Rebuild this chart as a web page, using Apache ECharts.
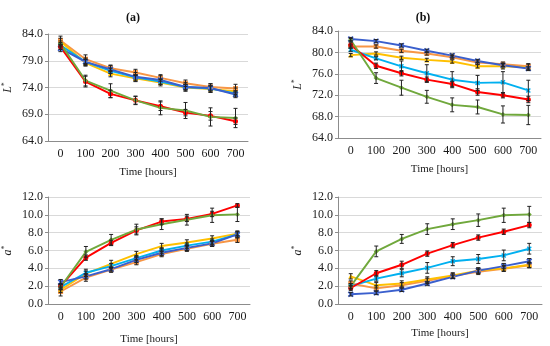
<!DOCTYPE html>
<html><head><meta charset="utf-8">
<script src="https://cdn.jsdelivr.net/npm/echarts@6/dist/echarts.min.js"></script>
<style>html,body{margin:0;padding:0;background:#fff}#c{width:550px;height:346px}</style>
</head><body><div id="c"></div>
<script>
var hours = ['0','100','200','300','400','500','600','700'];
var seriesNames = ['Orange','Yellow','Light blue','Dark blue','Red','Green'];
var colors = ['#F79646','#FFC000','#00B0F0','#3A5FCD','#FF0000','#70A83C'];

// Panel (a) L*
var aL_orange = [82.8,79.3,77.6,76.8,75.8,74.8,74.1,73.8];
var aL_yellow = [82.6,78.6,76.6,75.7,74.9,74.0,73.7,73.3];
var aL_lblue  = [81.9,78.8,77.1,75.9,75.1,74.1,73.8,72.9];
var aL_dblue  = [81.3,78.8,77.4,76.0,75.4,74.1,73.9,72.7];
var aL_red    = [81.6,75.1,72.8,71.6,70.5,69.3,68.7,67.7];
var aL_green  = [82.2,75.3,73.4,71.6,70.2,69.7,68.5,68.3];
var aL_err_orange = [0.8,0.8,0.6,0.6,0.6,0.6,0.6,0.8];
var aL_err_yellow = [0.6,0.6,0.6,0.6,0.6,0.6,0.6,0.6];
var aL_err_lblue  = [0.5,0.5,0.5,0.5,0.5,0.5,0.5,0.5];
var aL_err_dblue  = [0.6,0.7,0.7,0.8,0.8,0.8,0.8,0.6];
var aL_err_red    = [0.5,1.0,0.7,0.7,0.8,0.6,0.8,0.6];
var aL_err_green  = [0.5,1.0,1.3,0.8,1.3,1.5,1.7,1.8];

// Panel (b) L*
var bL_orange = [81.1,81.1,80.3,79.8,79.1,78.1,77.8,77.4];
var bL_yellow = [79.5,79.8,79.0,78.6,78.3,77.4,77.4,77.2];
var bL_lblue  = [80.5,78.9,77.4,76.1,74.9,74.3,74.4,72.9];
var bL_dblue  = [82.5,82.1,81.3,80.3,79.4,78.4,77.6,77.0];
var bL_red    = [81.4,77.5,76.1,74.9,74.1,72.6,72.0,71.2];
var bL_green  = [82.3,75.2,73.4,71.7,70.2,69.8,68.4,68.3];
var bL_err_orange = [0.3,0.3,0.3,0.3,0.3,0.3,0.4,0.5];
var bL_err_yellow = [0.3,0.3,0.3,0.3,0.3,0.3,0.5,0.6];
var bL_err_lblue  = [0.3,0.3,1.0,1.6,1.5,1.4,2.0,1.9];
var bL_err_dblue  = [0.3,0.3,0.3,0.3,0.3,0.3,0.3,0.3];
var bL_err_red    = [0.4,0.5,0.5,0.5,0.5,0.6,0.5,0.6];
var bL_err_green  = [0.3,1.0,1.4,1.2,1.3,1.3,1.6,1.8];

// Panel (a) a*
var aA_orange = [1.4,2.95,3.85,4.7,5.6,6.2,6.75,7.2];
var aA_yellow = [1.6,3.4,4.5,5.6,6.5,6.9,7.35,7.9];
var aA_lblue  = [1.9,3.5,4.25,5.15,6.0,6.55,7.0,7.8];
var aA_dblue  = [2.45,3.1,3.9,4.95,5.75,6.3,6.8,7.8];
var aA_red    = [2.0,5.2,6.85,8.25,9.25,9.55,10.1,11.05];
var aA_green  = [1.9,5.85,7.2,8.35,8.95,9.45,9.95,10.05];
var aA_err_orange = [0.5,0.4,0.3,0.3,0.3,0.3,0.3,0.3];
var aA_err_yellow = [0.3,0.3,0.4,0.3,0.3,0.3,0.3,0.2];
var aA_err_lblue  = [0.3,0.4,0.3,0.3,0.3,0.3,0.3,0.3];
var aA_err_dblue  = [0.3,0.3,0.2,0.3,0.3,0.3,0.3,0.4];
var aA_err_red    = [0.3,0.3,0.3,0.4,0.3,0.3,0.3,0.2];
var aA_err_green  = [0.3,0.6,0.6,0.6,0.6,0.6,0.8,0.8];

// Panel (b) a*
var bA_orange = [2.3,1.75,2.1,2.6,3.15,3.6,3.95,4.35];
var bA_yellow = [3.1,2.1,2.3,2.75,3.2,3.75,4.0,4.4];
var bA_lblue  = [2.0,2.85,3.45,4.05,4.8,5.05,5.45,6.2];
var bA_dblue  = [1.1,1.25,1.6,2.3,3.05,3.75,4.25,4.8];
var bA_red    = [1.8,3.45,4.4,5.65,6.6,7.45,8.1,8.85];
var bA_green  = [2.0,5.9,7.3,8.4,8.95,9.4,9.95,10.05];
var bA_err_orange = [0.3,0.3,0.3,0.3,0.3,0.3,0.3,0.3];
var bA_err_yellow = [0.3,0.3,0.3,0.3,0.3,0.3,0.3,0.3];
var bA_err_lblue  = [0.3,0.3,0.4,0.6,0.5,0.5,0.6,0.6];
var bA_err_dblue  = [0.2,0.2,0.2,0.2,0.2,0.3,0.3,0.3];
var bA_err_red    = [0.3,0.3,0.4,0.3,0.3,0.3,0.3,0.3];
var bA_err_green  = [0.3,0.6,0.5,0.6,0.6,0.7,0.8,0.9];

var lTicks = {a:{min:64,max:84,interval:5}, b:{min:64,max:84,interval:4}};
var aTicks = {min:0,max:12,interval:2};

var panels = [
  {vals:[aL_orange,aL_yellow,aL_lblue,aL_dblue,aL_red,aL_green], errs:[aL_err_orange,aL_err_yellow,aL_err_lblue,aL_err_dblue,aL_err_red,aL_err_green], y:lTicks.a, name:'L'},
  {vals:[bL_orange,bL_yellow,bL_lblue,bL_dblue,bL_red,bL_green], errs:[bL_err_orange,bL_err_yellow,bL_err_lblue,bL_err_dblue,bL_err_red,bL_err_green], y:lTicks.b, name:'L'},
  {vals:[aA_orange,aA_yellow,aA_lblue,aA_dblue,aA_red,aA_green], errs:[aA_err_orange,aA_err_yellow,aA_err_lblue,aA_err_dblue,aA_err_red,aA_err_green], y:aTicks, name:'a'},
  {vals:[bA_orange,bA_yellow,bA_lblue,bA_dblue,bA_red,bA_green], errs:[bA_err_orange,bA_err_yellow,bA_err_lblue,bA_err_dblue,bA_err_red,bA_err_green], y:aTicks, name:'a'}
];

var grids = [
  {left:43, top:34, width:205, height:107},
  {left:338, top:31, width:203, height:107},
  {left:45, top:197, width:205, height:107},
  {left:338, top:197, width:204, height:107}
];
var xNameGap = [26, 26, 30, 24];

var xcross = 'path://M0,2L2,0L5,3L8,0L10,2L7,5L10,8L8,10L5,7L2,10L0,8L3,5Z';
var symbols = ['rect','triangle',xcross,xcross,'circle','diamond'];
var symSizes = [5,5,5,6,5,5];

var font = 'Liberation Serif';
var xAxes = [], yAxes = [], series = [];
panels.forEach(function(p, i){
  xAxes.push({
    type:'category', gridIndex:i, data:hours, boundaryGap:true,
    name:'Time [hours]', nameLocation:'middle', nameGap:xNameGap[i],
    nameTextStyle:{fontFamily:font, fontSize:11, color:'#1a1a1a'},
    axisLine:{lineStyle:{color:'#8c8c8c'}},
    axisTick:{alignWithLabel:true, length:3, lineStyle:{color:'#8c8c8c'}},
    axisLabel:{fontFamily:font, fontSize:12, color:'#1a1a1a', margin:7},
    splitLine:{show:false}
  });
  yAxes.push({
    type:'value', gridIndex:i, min:p.y.min, max:p.y.max, interval:p.y.interval,
    name:'{n|'+p.name+'}{s|*}', nameLocation:'middle', nameGap:33, nameRotate:90,
    nameTextStyle:{rich:{n:{fontFamily:font, fontStyle:'italic', fontSize:12, color:'#1a1a1a'}, s:{fontFamily:font, fontSize:8, color:'#1a1a1a', verticalAlign:'top', padding:[0,0,6,0]}}},
    axisLine:{show:true, lineStyle:{color:'#8c8c8c'}},
    axisTick:{show:true, length:3, lineStyle:{color:'#8c8c8c'}},
    axisLabel:{fontFamily:font, fontSize:12, color:'#1a1a1a', margin:5, formatter:function(v){return v.toFixed(1);}},
    splitLine:{lineStyle:{color:'#d9d9d9'}}
  });
  p.vals.forEach(function(v, k){
    series.push({
      type:'line', name:seriesNames[k], xAxisIndex:i, yAxisIndex:i, data:v,
      symbol:symbols[k], symbolSize:symSizes[k], showSymbol:true,
      lineStyle:{color:colors[k], width:1.9}, itemStyle:{color:colors[k]},
      z:3, animation:false
    });
  });
  var ebData = [];
  p.vals.forEach(function(v, k){
    v.forEach(function(y, j){ ebData.push([j, y, p.errs[k][j]]); });
  });
  series.push({
    type:'custom', xAxisIndex:i, yAxisIndex:i, data:ebData, z:4, animation:false,
    renderItem:function(params, api){
      var x = api.value(0), y = api.value(1), e = api.value(2);
      var hi = api.coord([x, y + e]), lo = api.coord([x, y - e]);
      var w = 2;
      var st = {stroke:'#222', lineWidth:1};
      return {type:'group', children:[
        {type:'line', shape:{x1:hi[0], y1:hi[1], x2:lo[0], y2:lo[1]}, style:st},
        {type:'line', shape:{x1:hi[0]-w, y1:hi[1], x2:hi[0]+w, y2:hi[1]}, style:st},
        {type:'line', shape:{x1:lo[0]-w, y1:lo[1], x2:lo[0]+w, y2:lo[1]}, style:st}
      ]};
    }
  });
});

var chart = echarts.init(document.getElementById('c'), null, {renderer:'canvas'});
chart.setOption({
  animation:false,
  title:[
    {text:'(a)', left:128, top:13, textAlign:'center', textVerticalAlign:'middle', textStyle:{fontFamily:font, fontWeight:'bold', fontSize:12, color:'#111'}},
    {text:'(b)', left:418, top:13, textAlign:'center', textVerticalAlign:'middle', textStyle:{fontFamily:font, fontWeight:'bold', fontSize:12, color:'#111'}}
  ],
  grid:grids, xAxis:xAxes, yAxis:yAxes, series:series
});
</script></body></html>
